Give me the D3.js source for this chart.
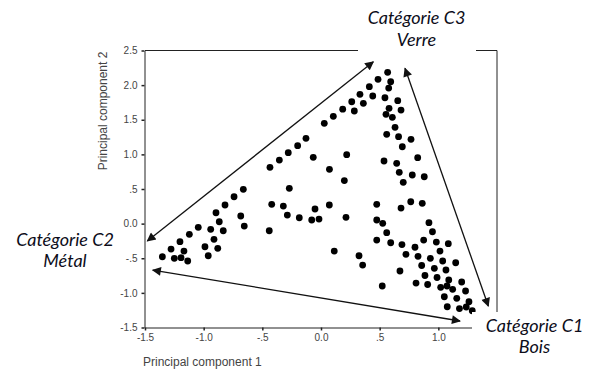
<!DOCTYPE html>
<html>
<head>
<meta charset="utf-8">
<script src="https://cdn.jsdelivr.net/npm/d3@7"></script>
<style>
  html, body { margin: 0; padding: 0; background: #fff; }
  svg { display: block; }
</style>
</head>
<body>
<svg id="chart" width="590" height="375"></svg>
<script>
// ---- data ----
const pc1 = [
  -1.352,-1.278,-1.250,-1.202,-1.193,-1.168,-1.136,-1.122,-1.046,-0.989,
  -0.961,-0.940,-0.912,-0.880,-0.895,-0.867,-0.833,-0.818,-0.741,-0.662,
  -0.684,-0.654,-0.420,-0.441,-0.321,-0.287,-0.270,-0.185,-0.051,-0.079,
  -0.017,0.071,0.199,0.213,0.113,0.324,0.355,0.475,0.475,0.475,
  0.522,-0.435,-0.355,-0.279,-0.199,-0.128,-0.066,0.072,0.219,0.028,
  0.105,0.185,0.262,0.284,0.332,0.361,0.412,0.441,0.486,0.568,
  0.594,0.577,0.545,0.654,0.580,0.682,0.554,0.608,0.631,0.560,
  0.661,0.767,0.693,0.537,0.645,0.824,0.667,0.778,0.880,0.701,
  0.682,0.765,0.863,0.526,0.560,0.594,0.920,0.950,0.875,0.690,
  0.801,0.983,1.085,0.724,0.827,0.932,1.014,1.037,1.148,0.858,
  0.966,1.065,0.673,0.886,0.989,1.089,1.199,0.810,0.909,1.020,
  1.074,1.122,1.232,1.051,1.157,1.261,1.076,1.180,1.238,1.289
];
const pc2 = [
  -0.478,-0.367,-0.501,-0.261,-0.492,-0.396,-0.540,-0.155,-0.053,-0.334,
  -0.464,-0.082,-0.227,-0.357,0.157,0.027,-0.103,0.269,0.388,0.495,
  0.110,-0.035,0.279,-0.103,0.254,0.124,0.510,0.085,0.211,0.052,
  0.066,0.269,0.622,0.091,-0.396,-0.464,-0.598,0.279,0.052,-0.237,
  -0.901,0.813,0.918,1.024,1.125,1.232,0.957,0.784,0.995,1.448,
  1.549,1.652,1.760,1.626,1.867,1.737,1.977,1.843,2.084,2.185,
  2.049,1.958,1.818,1.775,1.665,1.640,1.578,1.535,1.391,1.290,
  1.255,1.217,1.110,0.904,0.871,0.952,0.741,0.702,0.677,0.596,
  0.225,0.316,0.293,0.004,-0.131,-0.276,0.013,-0.117,-0.237,-0.302,
  -0.341,-0.266,-0.290,-0.443,-0.472,-0.501,-0.396,-0.540,-0.565,-0.605,
  -0.645,-0.670,-0.684,-0.749,-0.778,-0.814,-0.843,-0.858,-0.879,-0.920,
  -0.901,-0.949,-0.973,-1.056,-1.079,-1.128,-1.200,-1.226,-1.204,-1.258
];
const xTickValues = [-1.5, -1.0, -0.5, 0.0, 0.5, 1.0];
const xTickLabels = ["-1.5", "-1.0", "-.5", "0.0", ".5", "1.0"];
const yTickValues = [-1.5, -1.0, -0.5, 0.0, 0.5, 1.0, 1.5, 2.0, 2.5];
const yTickLabels = ["-1.5", "-1.0", "-.5", "0.0", ".5", "1.0", "1.5", "2.0", "2.5"];
const xTitle = "Principal component 1";
const yTitle = "Principal component 2";
// annotation arrows (data units, both ends with arrowheads)
const arrowX1 = [-1.480, -1.434, 0.716];
const arrowY1 = [-0.251, -0.670, 2.243];
const arrowX2 = [0.446, 1.185, 1.426];
const arrowY2 = [2.338, -1.406, -1.190];
const catTitles = ["Catégorie C3", "Catégorie C2", "Catégorie C1"];
const catNames = ["Verre", "Métal", "Bois"];

// ---- layout ----
const svg = d3.select("#chart");
const x = d3.scaleLinear().domain([-1.5, 1.5]).range([145, 497]);
const y = d3.scaleLinear().domain([-1.5, 2.5]).range([327.5, 50.5]);

// frame (top and right)
svg.append("path")
  .attr("d", `M${x(-1.5)},${y(2.5)}H${x(1.5)}V${y(-1.5)}`)
  .attr("fill", "none").attr("stroke", "#222").attr("stroke-width", 1);

// axes
const xAxis = d3.axisBottom(x).tickValues(xTickValues)
  .tickFormat((d, i) => xTickLabels[i]).tickSize(3).tickPadding(3).tickSizeOuter(0);
const yAxis = d3.axisLeft(y).tickValues(yTickValues)
  .tickFormat((d, i) => yTickLabels[i]).tickSize(3).tickPadding(4).tickSizeOuter(0);

const gx = svg.append("g").attr("transform", `translate(0,${y(-1.5)})`).call(xAxis);
const gy = svg.append("g").attr("transform", `translate(${x(-1.5) - 0.5},0)`).call(yAxis);
[gx, gy].forEach(g => {
  g.select(".domain").attr("stroke", "#222");
  g.selectAll(".tick line").attr("stroke", "#222").attr("stroke-width", 1.5);
  g.selectAll(".tick text").attr("fill", "#444")
    .style("font-family", "'Liberation Sans', Arial, sans-serif").style("font-size", "10px");
});

svg.append("text").attr("x", 143).attr("y", 366)
  .attr("fill", "#444").style("font-family", "'Liberation Sans', Arial, sans-serif")
  .style("font-size", "12px").text(xTitle);
svg.append("text").attr("transform", "translate(107,111) rotate(-90)")
  .attr("text-anchor", "middle")
  .attr("fill", "#444").style("font-family", "'Liberation Sans', Arial, sans-serif")
  .style("font-size", "12px").text(yTitle);

// points
svg.append("g").selectAll("circle")
  .data(pc1.map((v, i) => [v, pc2[i]]))
  .join("circle")
  .attr("cx", d => x(d[0])).attr("cy", d => y(d[1]))
  .attr("r", 3.4).attr("fill", "#000");

// annotation label boxes (white) that interrupt frame lines
const boxes = [
  {x0: 358, y0: 0, x1: 476, y1: 55},
  {x0: 472, y0: 312, x1: 590, y1: 365}
];
svg.append("g").selectAll("rect").data(boxes).join("rect")
  .attr("x", d => d.x0).attr("y", d => d.y0)
  .attr("width", d => d.x1 - d.x0).attr("height", d => d.y1 - d.y0)
  .attr("fill", "#fff");

// arrows
const defs = svg.append("defs");
defs.append("marker").attr("id", "ah")
  .attr("viewBox", "0 0 10 10").attr("refX", 9).attr("refY", 5)
  .attr("markerWidth", 11).attr("markerHeight", 9)
  .attr("markerUnits", "userSpaceOnUse")
  .attr("orient", "auto-start-reverse")
  .append("path").attr("d", "M0,0L10,5L0,10Z").attr("fill", "#111");

svg.append("g").selectAll("line")
  .data(arrowX1.map((v, i) => i))
  .join("line")
  .attr("x1", i => x(arrowX1[i])).attr("y1", i => y(arrowY1[i]))
  .attr("x2", i => x(arrowX2[i])).attr("y2", i => y(arrowY2[i]))
  .attr("stroke", "#111").attr("stroke-width", 1.3)
  .attr("marker-start", "url(#ah)").attr("marker-end", "url(#ah)");

// category labels
const labelPos = [
  {cx: 416.5, y1: 24, y2: 46},
  {cx: 65, y1: 246, y2: 267},
  {cx: 534.5, y1: 332, y2: 353}
];
const lg = svg.append("g")
  .style("font-family", "Lato, 'Open Sans', sans-serif")
  .style("font-style", "italic").style("font-size", "18px")
  .attr("fill", "#0d0d1a").attr("text-anchor", "middle");
labelPos.forEach((p, i) => {
  lg.append("text").attr("x", p.cx).attr("y", p.y1).text(catTitles[i]);
  lg.append("text").attr("x", p.cx).attr("y", p.y2).text(catNames[i]);
});
</script>
</body>
</html>
